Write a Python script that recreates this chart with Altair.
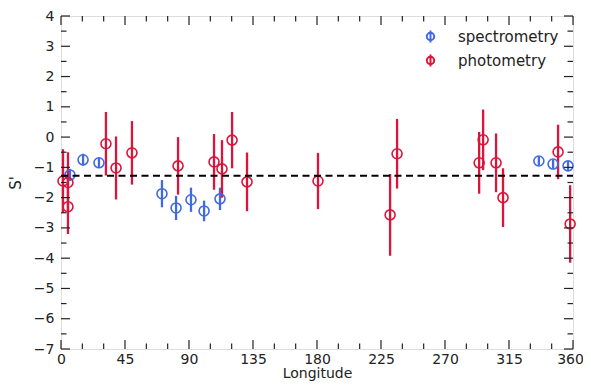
import altair as alt
import pandas as pd

# spectrometry
spec_lon = [6.3, 15.5, 26.7, 71.0, 80.9, 91.4, 100.6, 111.8, 336.0, 346.0, 356.5]
spec_s = [-1.25, -0.75, -0.85, -1.87, -2.34, -2.07, -2.44, -2.04, -0.79, -0.89, -0.95]
spec_err = [0.2, 0.2, 0.17, 0.45, 0.4, 0.4, 0.34, 0.37, 0.15, 0.15, 0.15]

# photometry
phot_lon = [1.4, 4.9, 4.9, 31.6, 38.7, 49.9, 82.3, 107.6, 113.2, 120.3, 130.8,
            180.7, 231.4, 236.3, 294.0, 296.8, 305.9, 310.8, 349.5, 358.0]
phot_s = [-1.45, -1.5, -2.3, -0.22, -1.02, -0.52, -0.95, -0.82, -1.05, -0.1, -1.48,
          -1.45, -2.57, -0.55, -0.85, -0.09, -0.85, -2.0, -0.49, -2.87]
phot_err = [1.05, 1.0, 0.9, 1.05, 1.04, 1.05, 0.95, 0.92, 0.95, 0.93, 0.97,
            0.93, 1.35, 1.15, 1.02, 1.0, 0.97, 0.97, 0.9, 1.28]

mean_level = -1.28

x_major = [0, 45, 90, 135, 180, 225, 270, 315, 360]
x_minor = [v for v in range(15, 360, 15) if v % 45 != 0]
y_major = list(range(-7, 5))
y_minor = [v + 0.5 for v in range(-7, 4)]

categories = ["spectrometry", "photometry"]
colors = ["#4169E1", "#DC143C"]

rows = []
for lo, s, e in zip(spec_lon, spec_s, spec_err):
    rows.append({"lon": lo, "s": s, "lo_s": s - e, "hi_s": s + e, "type": "spectrometry"})
for lo, s, e in zip(phot_lon, phot_s, phot_err):
    rows.append({"lon": lo, "s": s, "lo_s": s - e, "hi_s": s + e, "type": "photometry"})
df = pd.DataFrame(rows)

W, H = 512, 333
F = "DejaVu Sans"

xscale = alt.Scale(domain=[0, 360], nice=False, zero=False)
yscale = alt.Scale(domain=[-7, 4], nice=False, zero=False)
stroke_scale = alt.Scale(domain=categories, range=colors)

xaxis = alt.Axis(values=x_major, ticks=False, domain=False, grid=False,
                 title="Longitude", labelPadding=3, labelFontSize=14,
                 titleFontSize=14, titleFont=F, labelFont=F, labelFlush=False,
                 labelOverlap=False, labelBound=False,
                 labelOffset={"condition": {"test": "datum.value == 360", "value": -3}, "value": 0},
                 titleFontWeight="normal", titlePadding=0, labelColor="#222",
                 titleColor="#222")
yaxis = alt.Axis(values=y_major, ticks=False, domain=False, grid=False,
                 title="S'", labelPadding=7, labelFontSize=14,
                 titleFontSize=15, titleFont=F, labelFont=F, labelFlush=False,
                 labelOverlap=False, labelBound=False,
                 titleFontWeight="normal", titlePadding=10, labelColor="#222",
                 titleColor="#222")

sym = "M -0.6 0 A 0.6 0.6 0 1 1 0.6 0 A 0.6 0.6 0 1 1 -0.6 0 Z M 0 -1 L 0 1"

legend = alt.Legend(title=None, orient="none", legendX=362, legendY=13,
                    symbolType=sym, symbolSize=150, symbolStrokeWidth=2,
                    labelFontSize=15, labelFont=F, labelColor="#222",
                    rowPadding=3, labelOffset=20,
                    symbolFillColor="white")

base = alt.Chart(df)

errbars = base.mark_rule(strokeWidth=2.3).encode(
    x=alt.X("lon:Q", scale=xscale, axis=xaxis),
    y=alt.Y("lo_s:Q", scale=yscale, axis=yaxis),
    y2="hi_s:Q",
    stroke=alt.Stroke("type:N", scale=stroke_scale, legend=legend),
)

points = base.mark_point(shape="circle", filled=False, size=100, strokeWidth=1.6, opacity=1).encode(
    x=alt.X("lon:Q", scale=xscale, axis=xaxis),
    y=alt.Y("s:Q", scale=yscale, axis=yaxis),
    stroke=alt.Stroke("type:N", scale=stroke_scale, legend=legend),
)

dash = alt.Chart(pd.DataFrame({"y": [mean_level]})).mark_rule(
    color="black", strokeWidth=2, strokeDash=[7, 4.5]
).encode(y=alt.Y("y:Q", scale=yscale, axis=yaxis), x=alt.value(0), x2=alt.value(W))

def tick_layer(vals, axis, length):
    d = pd.DataFrame({"v": vals})
    c = alt.Chart(d).mark_rule(color="#222", strokeWidth=1.2)
    if axis == "x":
        bottom = c.encode(x=alt.X("v:Q", scale=xscale, axis=xaxis), y=alt.value(H), y2=alt.value(H - length))
        top = c.encode(x=alt.X("v:Q", scale=xscale, axis=xaxis), y=alt.value(0), y2=alt.value(length))
        return [bottom, top]
    left = c.encode(y=alt.Y("v:Q", scale=yscale, axis=yaxis), x=alt.value(0), x2=alt.value(length))
    right = c.encode(y=alt.Y("v:Q", scale=yscale, axis=yaxis), x=alt.value(W), x2=alt.value(W - length))
    return [left, right]

ticks = (tick_layer(x_major, "x", 9) + tick_layer(x_minor, "x", 5.5)
         + tick_layer(y_major, "y", 9) + tick_layer(y_minor, "y", 5.5))

chart = alt.layer(errbars, points, dash, *ticks).properties(
    width=W, height=H,
    autosize=alt.AutoSizeParams(type="none"),
    padding={"left": 53, "top": 8, "right": 10, "bottom": 33},
).configure_view(stroke="#222", strokeWidth=1.5).configure(background="white")

chart.save("out.html", embed_options={"renderer": "svg", "actions": False})
